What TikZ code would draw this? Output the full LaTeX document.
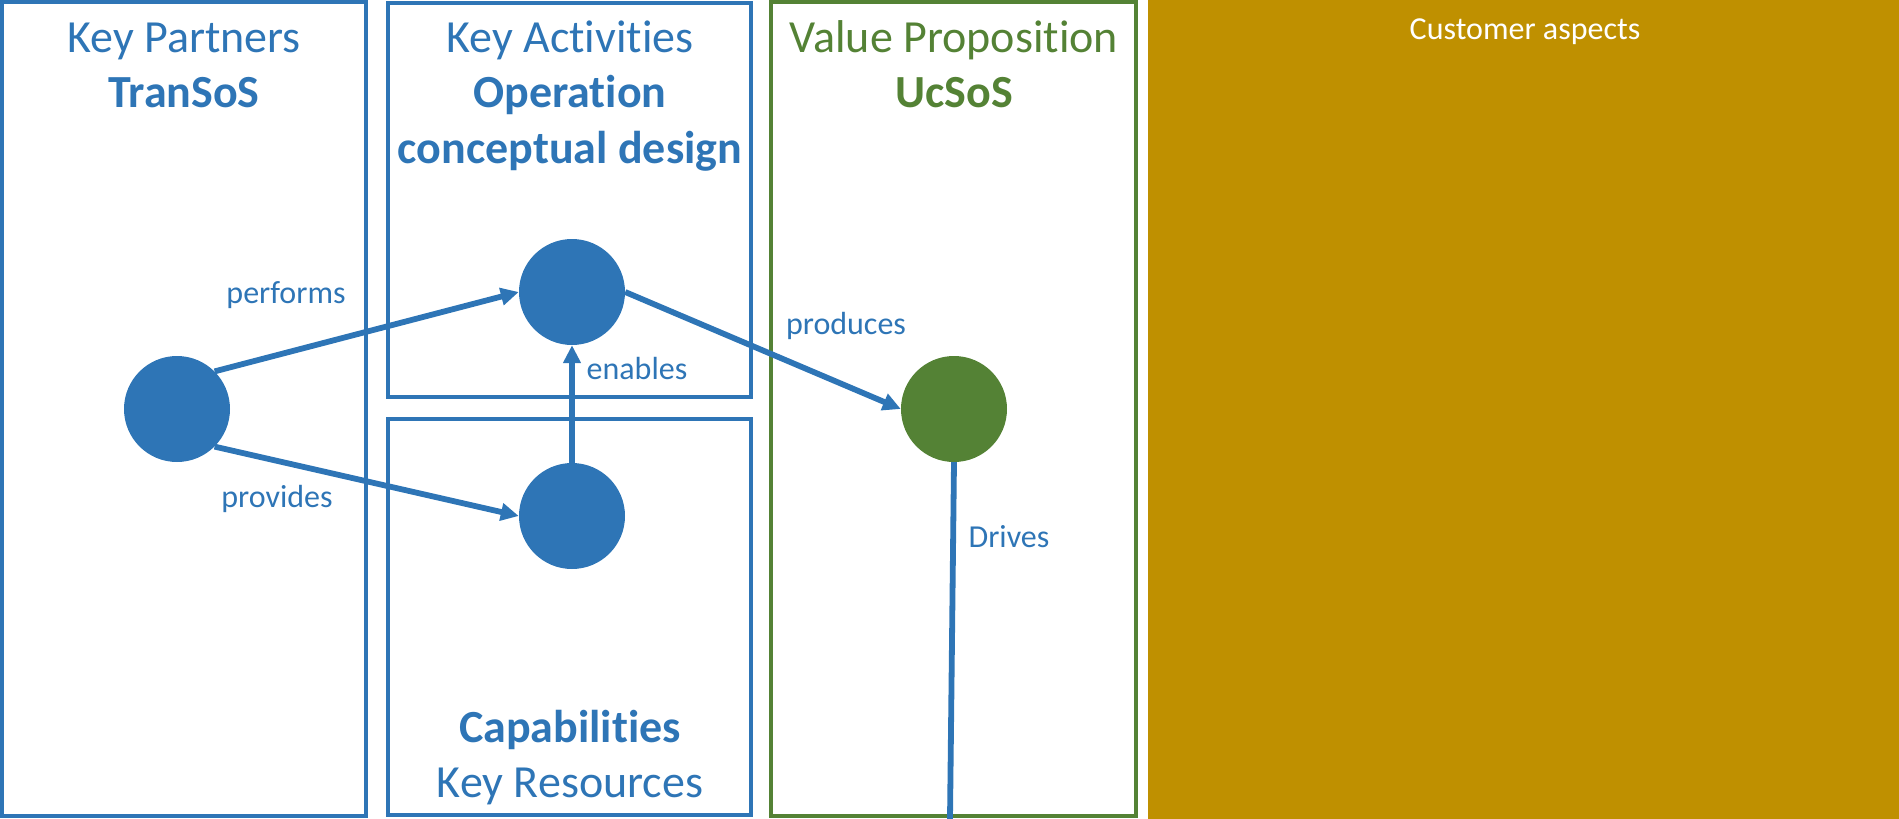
\documentclass[tikz,border=0pt]{standalone}
\usepackage{fontspec}
\setmainfont{Carlito}[Ligatures={NoCommon}]
\usetikzlibrary{arrows.meta}

\definecolor{kblue}{HTML}{2E75B6}
\definecolor{kgreen}{HTML}{548235}
\definecolor{kgold}{HTML}{BF9000}

\tikzset{
  box/.style={draw=kblue, line width=3.5pt},
  vbox/.style={draw=kgreen, line width=3.5pt},
  dot/.style={circle, fill=kblue, minimum size=106pt, inner sep=0pt},
  vdot/.style={dot, fill=kgreen},
  link/.style={draw=kblue, line width=5.8pt},
  rel/.style={link, -{Triangle[length=18pt,width=17pt]}},
  head/.style={text=kblue, anchor=base, inner sep=0pt, font=\fontsize{46}{56}\selectfont},
  boldhead/.style={head, font=\fontsize{46}{56}\selectfont\bfseries},
  lbl/.style={text=kblue, anchor=base, inner sep=0pt, font=\fontsize{32}{38}\selectfont}
}

\begin{document}
\begin{tikzpicture}[x=1pt,y=-1pt]
\useasboundingbox (0,0) rectangle (1899,819);

% canvas blocks
\draw[box] (2,2) rectangle (366,816);
\draw[box] (388,3) rectangle (751,397);
\draw[box] (388,419) rectangle (751,815);
\draw[vbox] (771,2) rectangle (1136,816);
\fill[kgold] (1148,0) rectangle (1899,819);

% block titles
\node[head] (kptitle) at (184,52) {Key Partners};
\node[boldhead] (kpname) at (184,107) {TranSoS};
\node[head] (katitle) at (570,52) {Key Activities};
\node[boldhead] (kaname) at (570,107) {Operation};
\node[boldhead] (kaname2) at (570,163) {conceptual design};
\node[boldhead] (krname) at (570,742) {Capabilities};
\node[head] (krtitle) at (570,797) {Key Resources};
\node[head, text=kgreen] (vptitle) at (954,52) {Value Proposition};
\node[boldhead, text=kgreen] (vpname) at (954,107) {UcSoS};
\node[lbl, text=white] (custtitle) at (1525,39) {Customer aspects};

% elements
\node[dot] (kp) at (177,409) {};
\node[dot] (act) at (572,292) {};
\node[dot] (cap) at (572,516) {};
\node[vdot] (ucs) at (954,409) {};
\coordinate (drvend) at (950,819);

% relations
\draw[rel] (kp.north east) -- (act.west);
\draw[rel] (kp.south east) -- (cap.west);
\draw[rel] (cap.north) -- (act.south);
\draw[rel] (act.east) -- (ucs.west);
\draw[link] (ucs.south) -- (drvend);

\node[lbl] (performs) at (286,303) {performs};
\node[lbl] (provides) at (277,507) {provides};
\node[lbl] (enables) at (637,379) {enables};
\node[lbl] (produces) at (846,334) {produces};
\node[lbl] (drives) at (1009,547) {Drives};
\end{tikzpicture}
\end{document}
